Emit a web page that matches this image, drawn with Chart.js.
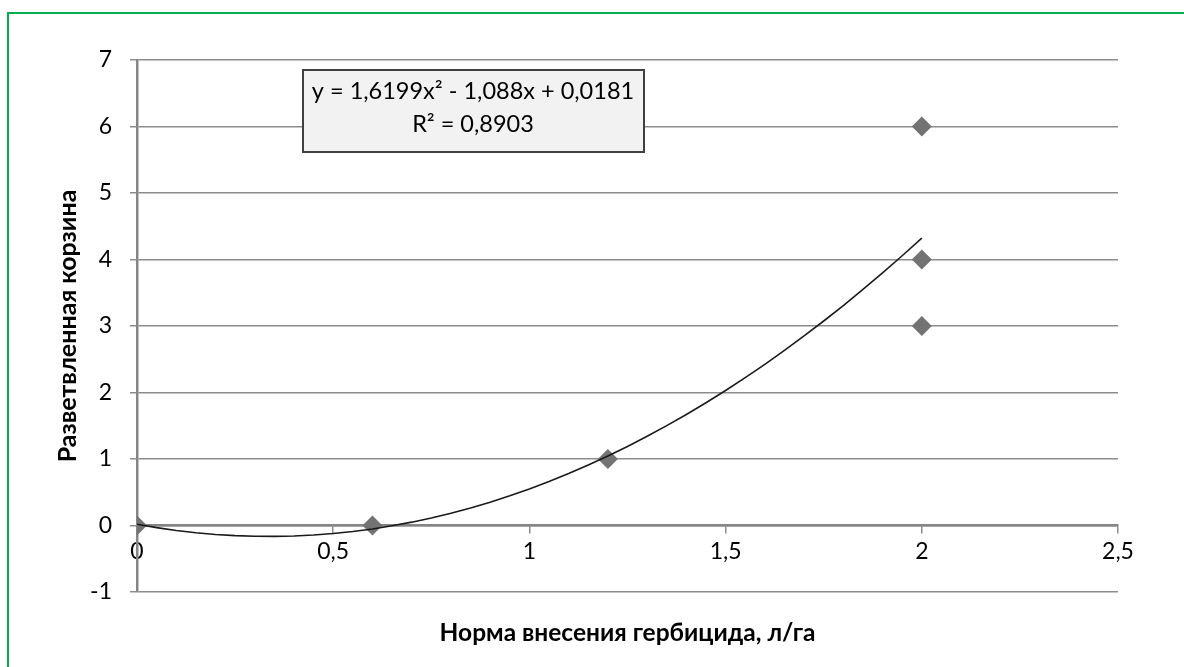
<!DOCTYPE html>
<html>
<head>
<meta charset="utf-8">
<script src="https://cdn.jsdelivr.net/npm/chart.js@4"></script>
<style>
    html, body { margin: 0; padding: 0; background: #fff; overflow: hidden; }
    #frame {
        position: absolute; left: 7px; top: 12px; width: 1300px; height: 800px;
        border-top: 2.5px solid #00b050; border-left: 2.5px solid #00b050;
    }
    #wrap { position: absolute; left: 0; top: 0; width: 1184px; height: 667px; }
</style>
</head>
<body>
<div id="frame"></div>
<div id="wrap"><canvas id="grafico" width="1184" height="667"></canvas></div>
<script>
// dados
const normaX = [0, 0.6, 1.2, 2, 2, 2];
const corzinaY = [0, 0, 1, 6, 4, 3];
// linha de tendência polinomial (coeficientes da equação mostrada)
const tendenciaCoef = [1.6199, -1.088, 0.0181];
const tendenciaFaixa = [0, 2];
const textoEquacao = ['y = 1,6199x² - 1,088x + 0,0181', 'R² = 0,8903'];
const tituloX = 'Норма внесения гербицида, л/га';
const tituloY = 'Разветвленная корзина';

const fonte = 'Lato, "Open Sans", sans-serif';
const cinza = '#8c8c8c';

const pontos = normaX.map((x, i) => ({ x: x, y: corzinaY[i] }));

// curva da tendência
const curva = [];
for (let i = 0; i <= 40; i++) {
    const x = tendenciaFaixa[0] + (tendenciaFaixa[1] - tendenciaFaixa[0]) * i / 40;
    curva.push({ x: x, y: tendenciaCoef[0] * x * x + tendenciaCoef[1] * x + tendenciaCoef[2] });
}

const virgula = v => String(Math.round(v * 10) / 10).replace('.', ',');

// caixa da equação + título do eixo X
const extras = {
    id: 'extras',
    afterDraw(chart) {
        const { ctx, chartArea } = chart;
        ctx.save();
        const bx = chartArea.left + 166, by = chartArea.top + 10;
        ctx.fillStyle = '#f2f2f2';
        ctx.fillRect(bx, by, 341, 82);
        ctx.strokeStyle = '#404040';
        ctx.lineWidth = 2;
        ctx.strokeRect(bx, by, 341, 82);
        ctx.fillStyle = '#000';
        ctx.font = '23.5px ' + fonte;
        ctx.textAlign = 'center';
        ctx.textBaseline = 'middle';
        ctx.fillText(textoEquacao[0], bx + 170, by + 21);
        ctx.fillText(textoEquacao[1], bx + 170, by + 54);

        ctx.font = 'bold 24.5px ' + fonte;
        ctx.fillText(tituloX, (chartArea.left + chartArea.right) / 2, 633);
        ctx.restore();
    }
};

new Chart(document.getElementById('grafico'), {
    type: 'scatter',
    data: {
        datasets: [{
            label: 'Разветвленная корзина',
            data: pontos,
            pointStyle: 'rectRot',
            pointRadius: 10,
            pointHoverRadius: 10,
            backgroundColor: '#737373',
            borderColor: '#737373',
            borderWidth: 0,
            order: 2
        }, {
            label: 'Тренд',
            type: 'line',
            data: curva,
            borderColor: '#1a1a1a',
            borderWidth: 1.6,
            pointRadius: 0,
            fill: false,
            order: 1
        }]
    },
    options: {
        responsive: false,
        animation: false,
        layout: { padding: { left: 0, top: 60, right: 66, bottom: 75 } },
        plugins: {
            legend: { display: false },
            tooltip: { enabled: false }
        },
        scales: {
            x: {
                type: 'linear',
                position: { y: 0 },
                min: 0, max: 2.5,
                grid: { drawOnChartArea: false, drawTicks: true, tickLength: 7, color: cinza, lineWidth: 1.5 },
                border: { display: true, color: '#868686', width: 2.5 },
                ticks: {
                    stepSize: 0.5, padding: 5, color: '#000',
                    font: { family: fonte, size: 23 },
                    callback: v => virgula(v)
                }
            },
            y: {
                min: -1, max: 7,
                afterFit: s => { s.width = 137; },
                grid: { color: cinza, lineWidth: 1.5, tickLength: 7 },
                border: { display: true, color: '#868686', width: 2.5 },
                ticks: {
                    stepSize: 1, padding: 18, color: '#000',
                    font: { family: fonte, size: 23 },
                    callback: v => virgula(v)
                },
                title: {
                    display: true, text: tituloY, color: '#000',
                    font: { family: fonte, size: 25, weight: 'bold' },
                    padding: { top: 53, bottom: 0 }
                }
            }
        }
    },
    plugins: [extras]
});
</script>
</body>
</html>
